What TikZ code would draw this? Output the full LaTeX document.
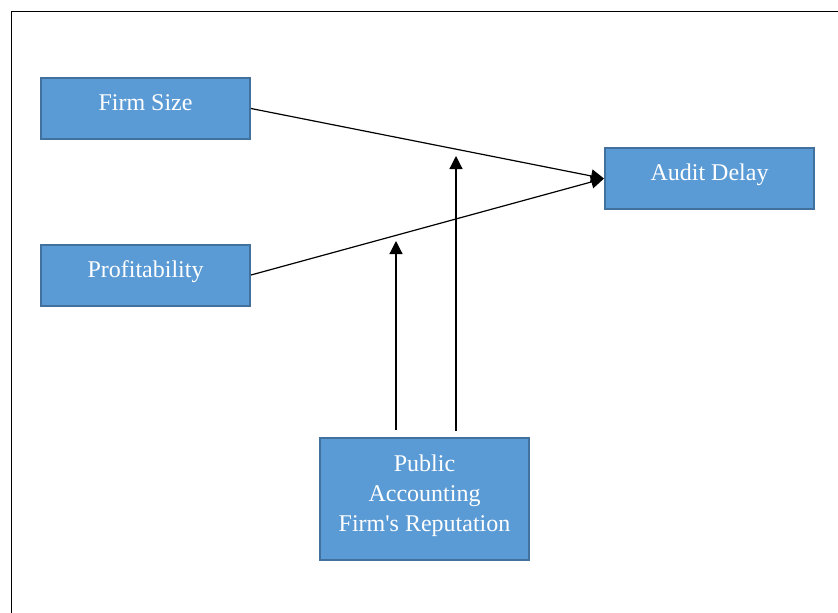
\documentclass[tikz,border=0pt]{standalone}
\usepackage{fontspec}
\setmainfont{Liberation Serif}
\usetikzlibrary{arrows.meta}
\definecolor{boxfill}{HTML}{5B9BD5}
\definecolor{boxline}{HTML}{41719C}
\tikzset{every picture/.style={x=1pt, y=-1pt}}
\tikzset{
  varbox/.style={draw=boxline, fill=boxfill, line width=2pt, text=white,
    minimum width=209pt, minimum height=61pt, inner sep=0pt, align=center,
    text depth=12pt, font=\fontsize{24}{30}\selectfont},
  link/.style={line width=1.2pt, -{Triangle[length=13pt,width=13pt]}}
}

\begin{document}
\begin{tikzpicture}
      \useasboundingbox (0,0) rectangle (838,613);
      % frame
      \draw[line width=1.2pt] (11.5,613) -- (11.5,11.5) -- (838,11.5);

      \node[varbox] (size)  at (145.5,108.5) {Firm Size};
      \node[varbox] (prof)  at (145.5,275)   {Profitability};
      \node[varbox] (delay) at (709.5,178.5) {Audit Delay};
      \node[varbox, minimum height=122pt] (rep) at (424.5,499)
        {Public\\Accounting\\Firm\textquotesingle s Reputation};

      \draw[link] (size.east) -- (delay.west);
      \draw[link] (prof.east) -- (delay.west);

      % moderating effects
      \coordinate (profbase) at (396,430);
      \coordinate (proftip)  at (396,241);
      \coordinate (sizebase) at (456,431);
      \coordinate (sizetip)  at (456,156);
      \draw[link] (profbase) -- (proftip);
      \draw[link] (sizebase) -- (sizetip);
    \end{tikzpicture}
\end{document}
